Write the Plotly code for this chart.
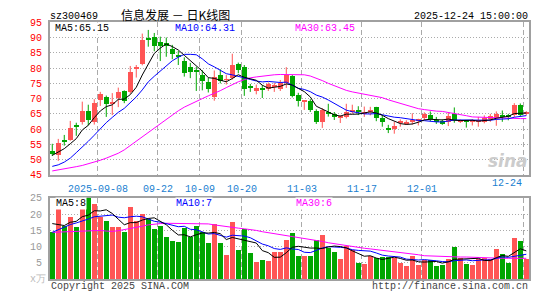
import plotly.graph_objects as go
import pandas as pd

# ---------------- data ----------------
opens = [52.9, 51.4, 56.3, 56.4, 61.1, 62.2, 66.0, 62.3, 69.4, 70.3,
         68.2, 70.1, 72.4, 72.1, 79.7, 81.2, 89.6, 90.1, 88.4, 88.2,
         86.2, 84.0, 82.2, 80.1, 79.0, 77.7, 75.3, 70.3, 77.8, 76.0,
         76.5, 81.1, 80.3, 73.7, 72.4, 73.5, 73.2, 74.0, 73.2, 74.9,
         77.3, 71.2, 68.9, 69.0, 65.9, 62.1, 65.3, 64.8, 63.8, 63.8,
         65.7, 66.2, 64.8, 65.6, 67.1, 63.7, 60.1, 60.0, 62.1, 61.7,
         62.2, 62.6, 63.4, 64.6, 62.5, 62.5, 62.2, 65.0, 62.5, 62.5,
         62.3, 62.4, 62.4, 63.2, 63.4, 64.4, 64.3, 64.5, 67.9, 64.9]
highs = [55.2, 56.8, 58.1, 62.7, 62.1, 69.0, 68.0, 69.8, 72.2, 71.0,
         71.8, 73.6, 72.7, 80.7, 81.0, 91.3, 92.5, 91.5, 90.3, 90.0,
         87.6, 85.6, 83.5, 81.7, 80.4, 79.3, 76.8, 79.2, 79.6, 77.7,
         84.7, 81.8, 81.0, 74.8, 74.6, 74.4, 75.3, 75.1, 76.1, 80.3,
         77.7, 71.9, 69.4, 69.8, 66.5, 66.9, 68.3, 65.6, 64.6, 68.3,
         68.0, 67.5, 67.4, 67.3, 67.3, 64.6, 61.4, 62.4, 63.2, 62.9,
         65.2, 63.4, 65.5, 65.8, 64.0, 63.2, 65.3, 67.1, 63.2, 62.9,
         63.2, 64.0, 64.5, 65.0, 65.8, 66.1, 65.0, 68.5, 68.4, 65.9]
lows = [51.2, 49.6, 54.6, 56.2, 57.8, 61.5, 61.2, 61.5, 67.6, 64.0,
        64.6, 67.2, 68.5, 71.6, 76.9, 80.9, 87.0, 85.5, 82.3, 83.7,
        82.9, 81.0, 77.2, 76.7, 72.5, 72.7, 72.0, 69.3, 75.0, 74.6,
        76.2, 78.3, 70.9, 72.2, 71.4, 70.2, 72.5, 72.2, 72.5, 73.5,
        70.4, 67.4, 66.3, 65.6, 61.7, 60.4, 64.1, 63.0, 62.0, 63.5,
        65.0, 64.6, 64.0, 64.5, 62.6, 60.8, 58.7, 58.5, 60.8, 61.4,
        61.5, 61.2, 62.9, 62.6, 61.7, 61.4, 61.0, 62.1, 62.0, 60.5,
        61.2, 60.8, 61.9, 62.4, 61.1, 62.4, 62.9, 64.0, 64.3, 64.5]
closes = [51.8, 55.4, 56.0, 60.4, 60.8, 66.0, 63.0, 68.6, 71.3, 68.0,
          68.9, 72.0, 69.0, 78.6, 80.1, 89.0, 89.3, 87.0, 87.3, 87.0,
          84.6, 83.7, 78.3, 78.7, 78.7, 75.6, 73.0, 77.1, 75.7, 76.2,
          80.8, 79.3, 72.9, 73.5, 73.5, 72.7, 74.6, 74.3, 74.9, 77.5,
          70.9, 69.1, 69.0, 66.2, 62.3, 66.2, 65.0, 63.8, 64.0, 65.6,
          65.9, 65.4, 65.6, 65.8, 63.7, 62.2, 59.9, 61.0, 62.3, 62.3,
          62.9, 62.8, 64.8, 63.3, 62.3, 61.9, 64.2, 62.9, 62.7, 62.3,
          62.5, 62.6, 63.4, 64.3, 65.0, 64.2, 64.1, 67.9, 64.7, 65.5]
volumes = [14.6, 22.6, 16.4, 19.3, 16.1, 21.8, 24.9, 23.2, 19.0, 17.9,
           16.1, 16.1, 14.6, 22.3, 17.9, 20.0, 18.6, 15.6, 16.4, 13.1,
           11.6, 11.3, 15.9, 13.1, 16.4, 14.4, 11.1, 16.9, 11.1, 7.4,
           17.6, 8.9, 15.6, 8.1, 5.4, 5.9, 5.7, 8.4, 8.4, 12.2,
           14.3, 7.2, 7.1, 7.0, 12.2, 13.5, 9.7, 8.5, 6.2, 10.2,
           9.0, 5.0, 4.8, 7.0, 6.6, 6.8, 6.9, 6.5, 5.0, 3.9,
           7.1, 4.2, 6.0, 6.0, 3.9, 4.5, 6.2, 9.8, 6.6, 4.8,
           4.5, 6.3, 6.5, 6.3, 9.4, 7.8, 5.0, 12.8, 11.7, 6.1]

# moving-average values before the window is full
ma5_head = [51.4, 52.6, 53.6, 55.2]
ma10_head = [47.8, 48.3, 49.2, 50.5, 52.3, 54.0, 56.0, 58.0, 60.2]
ma30 = [46.3, 46.6, 47.0, 47.3, 47.7, 48.1, 48.6, 49.2, 49.8, 50.5,
        51.3, 52.1, 53.2, 54.6, 56.0, 57.4, 58.8, 60.3, 61.8, 63.3,
        64.6, 66.0, 67.2, 68.2, 69.2, 70.0, 70.9, 71.7, 72.6, 73.6,
        74.6, 75.5, 76.2, 76.8, 77.1, 77.4, 77.6, 77.8, 77.9, 77.9,
        77.9, 77.9, 77.8, 77.4, 76.7, 75.9, 75.0, 74.2, 73.4, 72.7,
        72.2, 71.8, 71.3, 71.0, 70.7, 70.3, 69.6, 69.0, 68.4, 67.8,
        67.2, 66.7, 66.4, 66.1, 65.9, 65.8, 65.5, 65.1, 64.8, 64.4,
        64.0, 63.9, 63.8, 63.7, 63.6, 63.5, 63.45, 63.45, 63.45, 63.45]
vol_ma5_head = [17.1, 16.8, 16.5, 17.5]
vol_ma10_head = [14.4, 15.2, 16.2, 16.8, 17.3, 17.8, 18.5, 19.2, 19.4]
vol_ma30 = [14.4, 14.5, 14.6, 14.7, 14.8, 14.9, 15.0, 15.1, 15.0, 14.8,
            14.7, 14.9, 15.2, 15.6, 15.9, 16.3, 16.7, 17.0, 17.1, 17.2,
            17.2, 17.2, 17.2, 17.2, 17.2, 17.1, 17.0, 16.7, 16.4, 16.1,
            15.9, 15.7, 15.5, 15.3, 15.0, 14.6, 14.3, 14.0, 13.9, 13.6,
            13.3, 13.0, 12.7, 12.3, 11.9, 11.6, 11.2, 10.9, 10.6, 10.2,
            9.9, 9.7, 9.5, 9.3, 9.1, 8.9, 8.7, 8.4, 8.2, 7.9,
            7.7, 7.5, 7.2, 7.1, 7.0, 7.0, 6.9, 6.9, 6.8, 6.8,
            6.7, 6.7, 6.6, 6.6, 6.5, 6.4, 6.4, 6.4, 6.4, 6.4]

tick_idx = [8, 18, 25, 32, 42, 52, 62, 79]
tick_text = ["2025-09-08", "09-22", "10-09", "10-20", "11-03", "11-17", "12-01", "12-24"]
price_ticks = [45, 50, 55, 60, 65, 70, 75, 80, 85, 90, 95]
vol_ticks = [5, 10, 15, 20, 25]

# ---------------- derived ----------------
n = len(closes)
idx = list(range(n))
cs = pd.Series(closes)
ma5 = list(cs.rolling(5).mean())
ma10 = list(cs.rolling(10).mean())
ma5[:len(ma5_head)] = ma5_head
ma10[:len(ma10_head)] = ma10_head
vs = pd.Series(volumes)
vma5 = list(vs.rolling(5).mean())
vma10 = list(vs.rolling(10).mean())
vma5[:len(vol_ma5_head)] = vol_ma5_head
vma10[:len(vol_ma10_head)] = vol_ma10_head

RED = "#ff5555"
GREEN = "#00a600"
MONO = "Liberation Mono"
W, H = 545, 300


def px(x):
    return x / W


def py(y):
    return 1 - y / H


up = [c >= o for o, c in zip(opens, closes)]

fig = go.Figure()

# candles: wicks + bodies
for flag, col in ((True, RED), (False, GREEN)):
    wx, wy = [], []
    bx, bb, bh = [], [], []
    for i in idx:
        if up[i] != flag:
            continue
        wx += [i, i, None]
        wy += [lows[i], highs[i], None]
        bx.append(i)
        bb.append(min(opens[i], closes[i]))
        bh.append(max(abs(closes[i] - opens[i]), 0.32))
    fig.add_trace(go.Scatter(x=wx, y=wy, mode="lines", line=dict(color=col, width=1),
                             hoverinfo="skip", xaxis="x", yaxis="y"))
    fig.add_trace(go.Bar(x=bx, y=bh, base=bb, width=0.8, marker=dict(color=col, line=dict(width=0)),
                         xaxis="x", yaxis="y"))

for ys, col in ((ma30, "#ff00ff"), (ma10, "#0000ff"), (ma5, "#000000")):
    fig.add_trace(go.Scatter(x=idx, y=ys, mode="lines", line=dict(color=col, width=1),
                             xaxis="x", yaxis="y"))

# volume
fig.add_trace(go.Bar(x=idx, y=volumes, width=0.82,
                     marker=dict(color=[RED if u else GREEN for u in up], line=dict(width=0)),
                     xaxis="x2", yaxis="y2"))
for ys, col in ((vol_ma30, "#ff00ff"), (vma10, "#0000ff"), (vma5, "#000000")):
    fig.add_trace(go.Scatter(x=idx, y=ys, mode="lines", line=dict(color=col, width=1),
                             xaxis="x2", yaxis="y2"))

xdom = [px(50), px(529)]
xrange_ = [-0.38, 79.45]
grid_x = [t - 0.4 for t in tick_idx]

axis_common = dict(showline=True, mirror=True, linecolor="#a0a0a0", linewidth=2,
                   ticks="", zeroline=False, fixedrange=True)

fig.update_layout(
    width=W, height=H, margin=dict(l=0, r=0, t=0, b=0),
    paper_bgcolor="white", plot_bgcolor="white",
    showlegend=False, barmode="overlay", bargap=0,
    font=dict(family=MONO, size=10),
    xaxis=dict(domain=xdom, range=xrange_, anchor="y", tickvals=grid_x,
               ticktext=tick_text[:-1] + [""],
               tickfont=dict(color="#1a80d0", size=10, family=MONO),
               showgrid=True, gridcolor="#aaaaaa", gridwidth=1, griddash="5px,3px",
               ticklabelstandoff=3, **axis_common),
    yaxis=dict(domain=[py(177), py(18)], range=[45, 95], anchor="x", tickvals=price_ticks,
               tickfont=dict(color="#ff0000", size=10, family=MONO),
               showgrid=True, gridcolor="#aaaaaa", gridwidth=1, griddash="1px,2px",
               ticklabelstandoff=4, **axis_common),
    xaxis2=dict(domain=xdom, range=xrange_, anchor="y2", tickvals=grid_x,
                showticklabels=False, showgrid=True, gridcolor="#aaaaaa", gridwidth=1,
                griddash="5px,3px", **axis_common),
    yaxis2=dict(domain=[py(285.5), py(201)], range=[0, 25], anchor="x2", tickvals=vol_ticks,
                tickfont=dict(color="#999999", size=10, family=MONO),
                showgrid=True, gridcolor="#aaaaaa", gridwidth=1, griddash="1px,2px",
                ticklabelstandoff=4, **axis_common),
)

ann = []


def text(x, y, s, color="#000", size=10, anchor="left", family=MONO, bg=None, **kw):
    d = dict(x=px(x), y=py(y), xref="paper", yref="paper", text=s, showarrow=False,
             xanchor=anchor, yanchor="middle", borderpad=0,
             font=dict(color=color, size=size, family=family))
    if bg:
        d["bgcolor"] = bg
    d.update(kw)
    ann.append(d)


text(49, 12, "sz300469")
text(120, 10, "信息发展 － 日K线图", size=12, family="Noto Sans CJK SC")
text(529, 12, "2025-12-24 15:00:00", anchor="right")
text(54, 24, "MA5:65.15", bg="white")
text(174, 24, "MA10:64.31", color="#0000ff", bg="white")
text(294, 24, "MA30:63.45", color="#ff00ff", bg="white")
text(55, 207, "MA5:8", bg="white")
text(175, 207, "MA10:7", color="#0000ff", bg="white")
text(295, 207, "MA30:6", color="#ff00ff", bg="white")
text(29, 286, "x万", color="#bbbbbb")
text(50, 293, "Copyright 2025 SINA.COM", color="#444444")
text(529, 293, "http://finance.sina.com.cn", color="#444444", anchor="right")
text(529, 162, "<b><i>sina</i></b>", color="#cccccc", size=17, anchor="right",
     family="DejaVu Sans")
# last date label, right-aligned against its grid line
ann.append(dict(x=grid_x[-1], y=py(186), xref="x", yref="paper", text=tick_text[-1],
                showarrow=False, xanchor="right", yanchor="middle",
                font=dict(color="#1a80d0", size=10, family=MONO)))
fig.update_layout(annotations=ann)

fig.write_html("out.html", include_plotlyjs=True, config={"displayModeBar": False})
